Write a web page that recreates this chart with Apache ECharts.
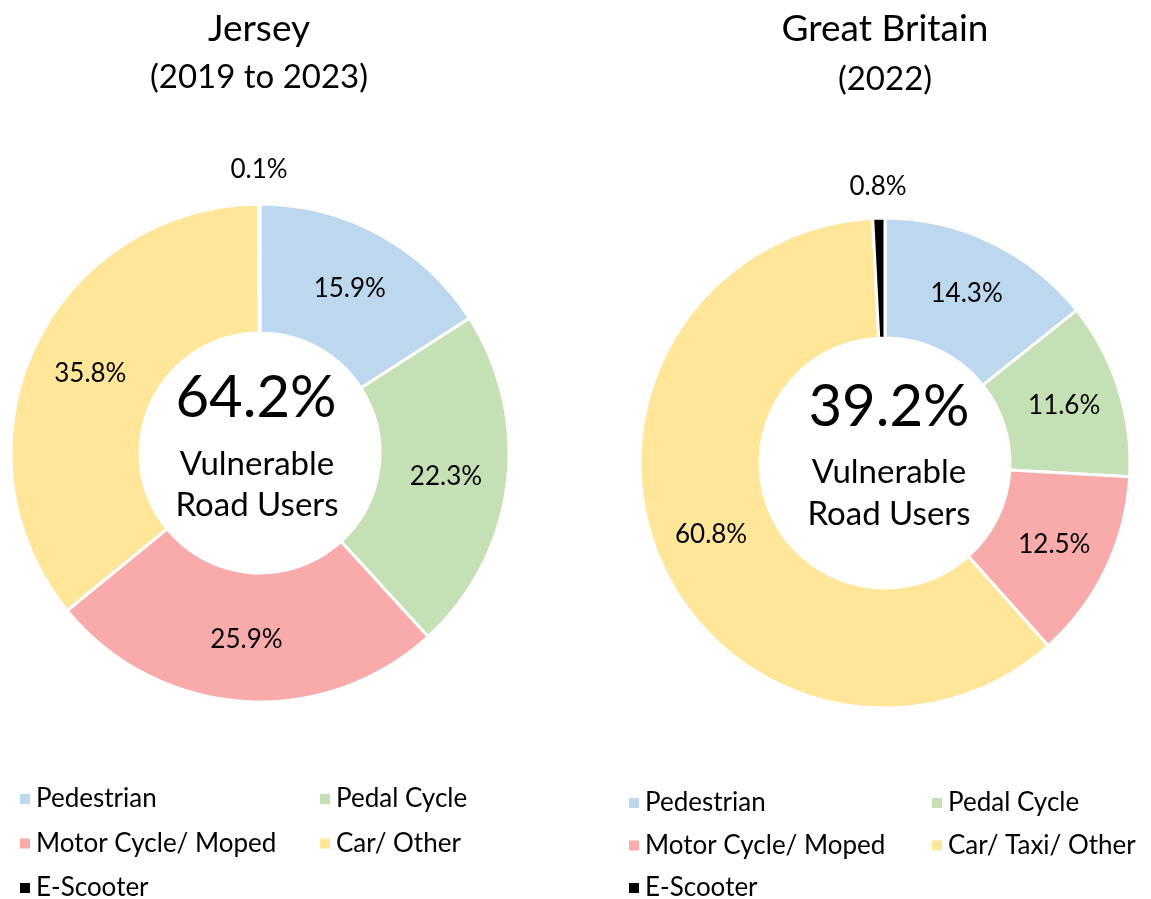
<!DOCTYPE html>
<html>
<head>
<meta charset="utf-8">
<script src="https://cdn.jsdelivr.net/npm/echarts@6/dist/echarts.min.js"></script>
<style>
  html, body { margin: 0; padding: 0; background: #fff; }
  #chart { width: 1151px; height: 899px; }
</style>
</head>
<body>
<div id="chart"></div>
<script>
const jerseyCategories = ['Pedestrian', 'Pedal Cycle', 'Motor Cycle/ Moped', 'Car/ Other', 'E-Scooter'];
const gbCategories = ['Pedestrian', 'Pedal Cycle', 'Motor Cycle/ Moped', 'Car/ Taxi/ Other', 'E-Scooter'];
const jerseyValues = [15.9, 22.3, 25.9, 35.8, 0.1];
const gbValues = [14.3, 11.6, 12.5, 60.8, 0.8];
const sliceColors = ['#BDD7EE', '#C5E0B4', '#F8ABAA', '#FFE699', '#000000'];
const centerValues = ['64.2%', '39.2%'];

const font = 'Lato, "Open Sans", sans-serif';

function pieData(cats, vals) {
  return cats.map((c, i) => ({
    name: c,
    value: vals[i],
    itemStyle: { color: sliceColors[i] },
    label: { show: c !== 'E-Scooter' },
  }));
}

// transparent ring just outside the donut, only used to place the tiny slice label
function outerLabelData(cats, vals) {
  return cats.map((c, i) => ({
    name: c,
    value: vals[i],
    label: { show: c === 'E-Scooter' },
  }));
}

const sliceLabel = {
  position: 'inside',
  formatter: p => p.value.toFixed(1) + '%',
  fontFamily: font,
  fontSize: 26,
  color: '#000',
};

function donut(center, radius, cats, vals) {
  return {
    type: 'pie',
    center: center,
    radius: radius,
    startAngle: 90,
    clockwise: true,
    silent: true,
    itemStyle: { borderColor: '#fff', borderWidth: 3 },
    label: sliceLabel,
    labelLine: { show: false },
    emphasis: { disabled: true },
    data: pieData(cats, vals),
  };
}

function outerRing(center, radius, cats, vals) {
  return {
    type: 'pie',
    center: center,
    radius: radius,
    startAngle: 90,
    clockwise: true,
    silent: true,
    itemStyle: { color: 'rgba(0,0,0,0)', borderWidth: 0 },
    label: sliceLabel,
    labelLine: { show: false },
    emphasis: { disabled: true },
    data: outerLabelData(cats, vals),
  };
}

function legendCol(left, top, gap, names) {
  return {
    left: left,
    top: top,
    width: 300,
    height: 300,
    padding: 0,
    orient: 'vertical',
    itemGap: gap,
    itemWidth: 12,
    itemHeight: 12,
    itemTextGap: 14,
    icon: 'rect',
    selectedMode: false,
    textStyle: { fontFamily: font, fontSize: 26, color: '#000' },
    data: names,
  };
}

function titleText(text, x, y, size) {
  return {
    text: text,
    left: x,
    top: y,
    textAlign: 'center',
    textStyle: { fontFamily: font, fontSize: size, fontWeight: 'normal', color: '#000' },
  };
}

const chart = echarts.init(document.getElementById('chart'));
chart.setOption({
  animation: false,
  title: [
    titleText('Jersey', 254, 6, 37),
    titleText('(2019 to 2023)', 254, 56, 33),
    titleText('Great Britain', 880, 6, 37),
    titleText('(2022)', 880, 58, 33),
    titleText(centerValues[0], 251, 364, 58),
    titleText('Vulnerable', 252, 443, 33),
    titleText('Road Users', 252, 484, 33),
    titleText(centerValues[1], 884, 373, 58),
    titleText('Vulnerable', 884, 451, 33),
    titleText('Road Users', 884, 493, 33),
  ],
  legend: [
    legendCol(18, 786, 18.5, ['Pedestrian', 'Motor Cycle/ Moped', 'E-Scooter']),
    legendCol(318, 786, 18.5, ['Pedal Cycle', 'Car/ Other']),
    legendCol(627, 790, 16.5, ['Pedestrian', 'Motor Cycle/ Moped', 'E-Scooter']),
    legendCol(930, 790, 16.5, ['Pedal Cycle', 'Car/ Taxi/ Other']),
  ],
  series: [
    donut([260, 453], [120, 249], jerseyCategories, jerseyValues),
    donut([885, 463], [125, 245], gbCategories, gbValues),
    outerRing([260, 453], [254, 306], jerseyCategories, jerseyValues),
    outerRing([885, 463], [248, 298], gbCategories, gbValues),
  ],
});
</script>
</body>
</html>
